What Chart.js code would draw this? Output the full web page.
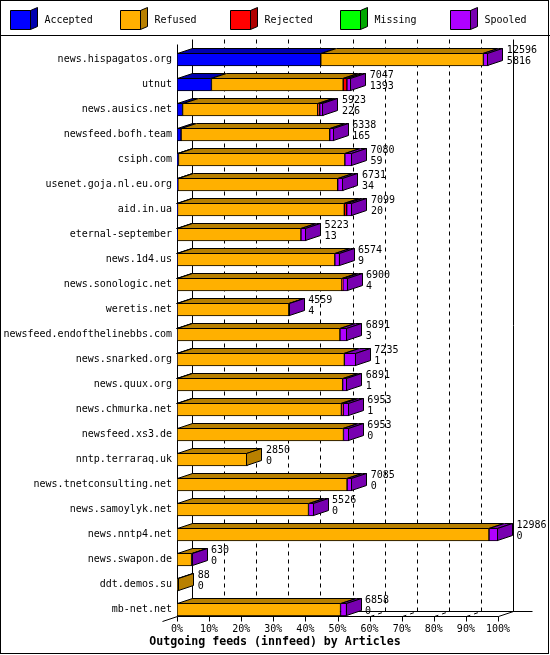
<!DOCTYPE html>
<html>
<head>
<meta charset="utf-8">
<title>Outgoing feeds (innfeed) by Articles</title>
<script src="https://cdn.jsdelivr.net/npm/chart.js@4.4.1/dist/chart.umd.min.js"></script>
<style>
  html, body { margin: 0; padding: 0; background: #fff; }
  canvas { display: block; }
</style>
</head>
<body>
<canvas id="feedsCanvas" width="550" height="655"></canvas>
<script>
// Outgoing feeds (innfeed) by Articles - innreport style 3D stacked bars

const hosts = [
    'news.hispagatos.org', 'utnut', 'news.ausics.net', 'newsfeed.bofh.team',
    'csiph.com', 'usenet.goja.nl.eu.org', 'aid.in.ua', 'eternal-september',
    'news.1d4.us', 'news.sonologic.net', 'weretis.net', 'newsfeed.endofthelinebbs.com',
    'news.snarked.org', 'news.quux.org', 'news.chmurka.net', 'newsfeed.xs3.de',
    'nntp.terraraq.uk', 'news.tnetconsulting.net', 'news.samoylyk.net', 'news.nntp4.net',
    'news.swapon.de', 'ddt.demos.su', 'mb-net.net'
];

// offered = printed total, accepted = printed second line
const offered  = [12596, 7047, 5923, 6338, 7080, 6731, 7099, 5223, 6574, 6900, 4559, 6891,
                  7235, 6891, 6953, 6953, 2850, 7085, 5526, 12986, 630, 88, 6858];
const accepted = [5816, 1393, 226, 165, 59, 34, 20, 13, 9, 4, 4, 3,
                  1, 1, 1, 0, 0, 0, 0, 0, 0, 0, 0];
const refused  = [6580, 5330, 5467, 6013, 6731, 6467, 6750, 5000, 6375, 6666, 4520, 6588,
                  6770, 6700, 6650, 6735, 2850, 6880, 5320, 12620, 590, 88, 6616];
const rejected = [0, 150, 80, 0, 0, 0, 95, 0, 0, 40, 0, 0,
                  0, 0, 80, 0, 0, 0, 0, 0, 0, 0, 0];
const missing  = [0, 0, 0, 0, 0, 0, 0, 0, 0, 0, 0, 0,
                  0, 0, 0, 0, 0, 0, 0, 0, 0, 0, 0];
const spooled  = [200, 174, 150, 160, 290, 230, 234, 210, 190, 190, 35, 300,
                  464, 190, 222, 218, 0, 205, 206, 366, 40, 0, 242];

const percentTicks = [0, 10, 20, 30, 40, 50, 60, 70, 80, 90, 100];

const FONT = '"DejaVu Sans Mono", "Liberation Mono", monospace';
const DX = 15;   // bar depth, x
const DY = 5;    // bar depth, y

const colors = {
    Accepted: { front: '#0000ff', dark: '#0000b0' },
    Refused:  { front: '#ffb000', dark: '#b88000' },
    Rejected: { front: '#ff0000', dark: '#b00000' },
    Missing:  { front: '#00ff00', dark: '#00a800' },
    Spooled:  { front: '#b000ff', dark: '#7800b0' }
};

const seriesList = [
    ['Accepted', accepted],
    ['Refused', refused],
    ['Rejected', rejected],
    ['Missing', missing],
    ['Spooled', spooled]
];

const maxTotal = Math.max(...offered);

function line(ctx, x1, y1, x2, y2) {
    ctx.beginPath();
    ctx.moveTo(x1, y1);
    ctx.lineTo(x2, y2);
    ctx.stroke();
}

function poly(ctx, pts, fill) {
    ctx.beginPath();
    ctx.moveTo(pts[0][0], pts[0][1]);
    for (let k = 1; k < pts.length; k++) ctx.lineTo(pts[k][0], pts[k][1]);
    ctx.closePath();
    ctx.fillStyle = fill;
    ctx.fill();
    ctx.stroke();
}

const box3d = {
    id: 'box3d',

    // back wall, floor and dashed grid
    beforeDatasetsDraw(chart) {
        const { ctx, scales: { x, y } } = chart;
        const x0 = Math.round(x.getPixelForValue(0)) + 0.5;
        const x100 = Math.round(x.getPixelForValue(maxTotal)) + 0.5;
        const lastCenter = y.getPixelForValue(hosts.length - 1);
        const floorY = Math.round(lastCenter + 6) + 0.5;
        const frontTop = Math.round(chart.chartArea.top) - 2.5;
        const backTop = frontTop - DY;
        const backFloor = floorY - DY;

        ctx.save();
        ctx.strokeStyle = '#000';
        ctx.lineWidth = 1;

        // dashed grid lines on the back wall and floor
        ctx.setLineDash([4, 4]);
        percentTicks.forEach((p, i) => {
            if (i === 0 || i === percentTicks.length - 1) return;
            const px = Math.round(x.getPixelForValue(p * maxTotal / 100)) + 0.5;
            line(ctx, px + DX, backTop, px + DX, backFloor);
            line(ctx, px, floorY, px + DX, backFloor);
        });
        ctx.setLineDash([]);

        line(ctx, x0, frontTop, x0, floorY);
        line(ctx, x0 + DX, backTop, x0 + DX, backFloor);
        line(ctx, x100 + DX, backTop, x100 + DX, backFloor);
        line(ctx, x0 + DX, backFloor, x100 + DX + 19, backFloor);
        line(ctx, x0, floorY, x100, floorY);
        line(ctx, x100, floorY, x100 + DX, backFloor);
        line(ctx, x0 - DX, floorY + DY, x0, floorY);

        percentTicks.forEach(p => {
            const px = Math.round(x.getPixelForValue(p * maxTotal / 100)) + 0.5;
            line(ctx, px, floorY, px, floorY + 5);
        });
        ctx.restore();
    },

    // top and side faces, value labels
    afterDatasetsDraw(chart) {
        const { ctx, scales: { x, y } } = chart;
        ctx.save();
        ctx.strokeStyle = '#000';
        ctx.lineWidth = 1;

        hosts.forEach((host, i) => {
            let lastSeg = -1;
            seriesList.forEach(([, values], d) => { if (values[i] > 0) lastSeg = d; });

            seriesList.forEach(([name, values], d) => {
                if (!(values[i] > 0)) return;
                const el = chart.getDatasetMeta(d).data[i];
                const l = Math.round(Math.min(el.base, el.x)) + 0.5;
                const r = Math.round(Math.max(el.base, el.x)) - 0.5;
                const t = Math.round(el.y - el.height / 2) + 0.5;
                const b = Math.round(el.y + el.height / 2) - 0.5;
                const c = colors[name];
                poly(ctx, [[l, t], [l + DX, t - DY], [r + DX, t - DY], [r, t]], c.dark);
                if (d === lastSeg) {
                    poly(ctx, [[r, t], [r + DX, t - DY], [r + DX, b - DY], [r, b]], c.dark);
                }
            });

            const cy = y.getPixelForValue(i);
            const tx = x.getPixelForValue(offered[i]) + DX + 3.5;
            ctx.fillStyle = '#000';
            ctx.font = '10px ' + FONT;
            ctx.textAlign = 'left';
            ctx.textBaseline = 'middle';
            ctx.fillText(String(offered[i]), tx, cy - 9.5);
            ctx.fillText(String(accepted[i]), tx, cy + 1.5);
        });
        ctx.restore();
    },

    // legend, title and frame
    afterDraw(chart) {
        const { ctx, width, height } = chart;
        ctx.save();
        ctx.strokeStyle = '#000';
        ctx.lineWidth = 1;

        seriesList.forEach(([name], i) => {
            const lx = 10.5 + i * 110;
            const c = colors[name];
            poly(ctx, [[lx + 20, 10.5], [lx + 27, 7.5], [lx + 27, 26.5], [lx + 20, 29.5]], c.dark);
            poly(ctx, [[lx, 10.5], [lx + 20, 10.5], [lx + 20, 29.5], [lx, 29.5]], c.front);
            ctx.fillStyle = '#000';
            ctx.font = '10px ' + FONT;
            ctx.textAlign = 'left';
            ctx.textBaseline = 'middle';
            ctx.fillText(name, lx + 34, 20);
        });

        ctx.font = 'bold 11.6px ' + FONT;
        ctx.textAlign = 'center';
        ctx.fillText('Outgoing feeds (innfeed) by Articles', 275, 642);

        line(ctx, 0, 35.5, width, 35.5);
        ctx.strokeRect(0.5, 0.5, width - 2, height - 2);
        ctx.restore();
    }
};

Chart.defaults.font.family = FONT;
Chart.defaults.font.size = 10;
Chart.defaults.color = '#000';

new Chart(document.getElementById('feedsCanvas').getContext('2d'), {
    type: 'bar',
    data: {
        labels: hosts,
        datasets: seriesList.map(([name, values]) => ({
            label: name,
            data: values,
            backgroundColor: colors[name].front,
            borderColor: '#000',
            borderWidth: 1,
            borderSkipped: false,
            barThickness: 13
        }))
    },
    options: {
        indexAxis: 'y',
        responsive: false,
        animation: false,
        layout: {
            padding: { left: 0, right: 52, top: 47, bottom: 20 }
        },
        plugins: {
            legend: { display: false },
            tooltip: { enabled: false }
        },
        scales: {
            x: {
                stacked: true,
                min: 0,
                max: maxTotal,
                grid: { display: false, drawTicks: false },
                border: { display: false },
                afterBuildTicks: (scale) => {
                    scale.ticks = percentTicks.map(p => ({ value: p * maxTotal / 100 }));
                },
                afterFit: (scale) => { scale.height = 13; },
                ticks: {
                    autoSkip: false,
                    maxRotation: 0,
                    padding: 1,
                    font: { size: 10 },
                    callback: (value, index) => percentTicks[index] + '%'
                }
            },
            y: {
                stacked: true,
                grid: { display: false, drawTicks: false },
                border: { display: false },
                afterFit: (scale) => { scale.width = 177; },
                ticks: {
                    autoSkip: false,
                    padding: 5,
                    font: { size: 10 }
                }
            }
        }
    },
    plugins: [box3d]
});
</script>
</body>
</html>
